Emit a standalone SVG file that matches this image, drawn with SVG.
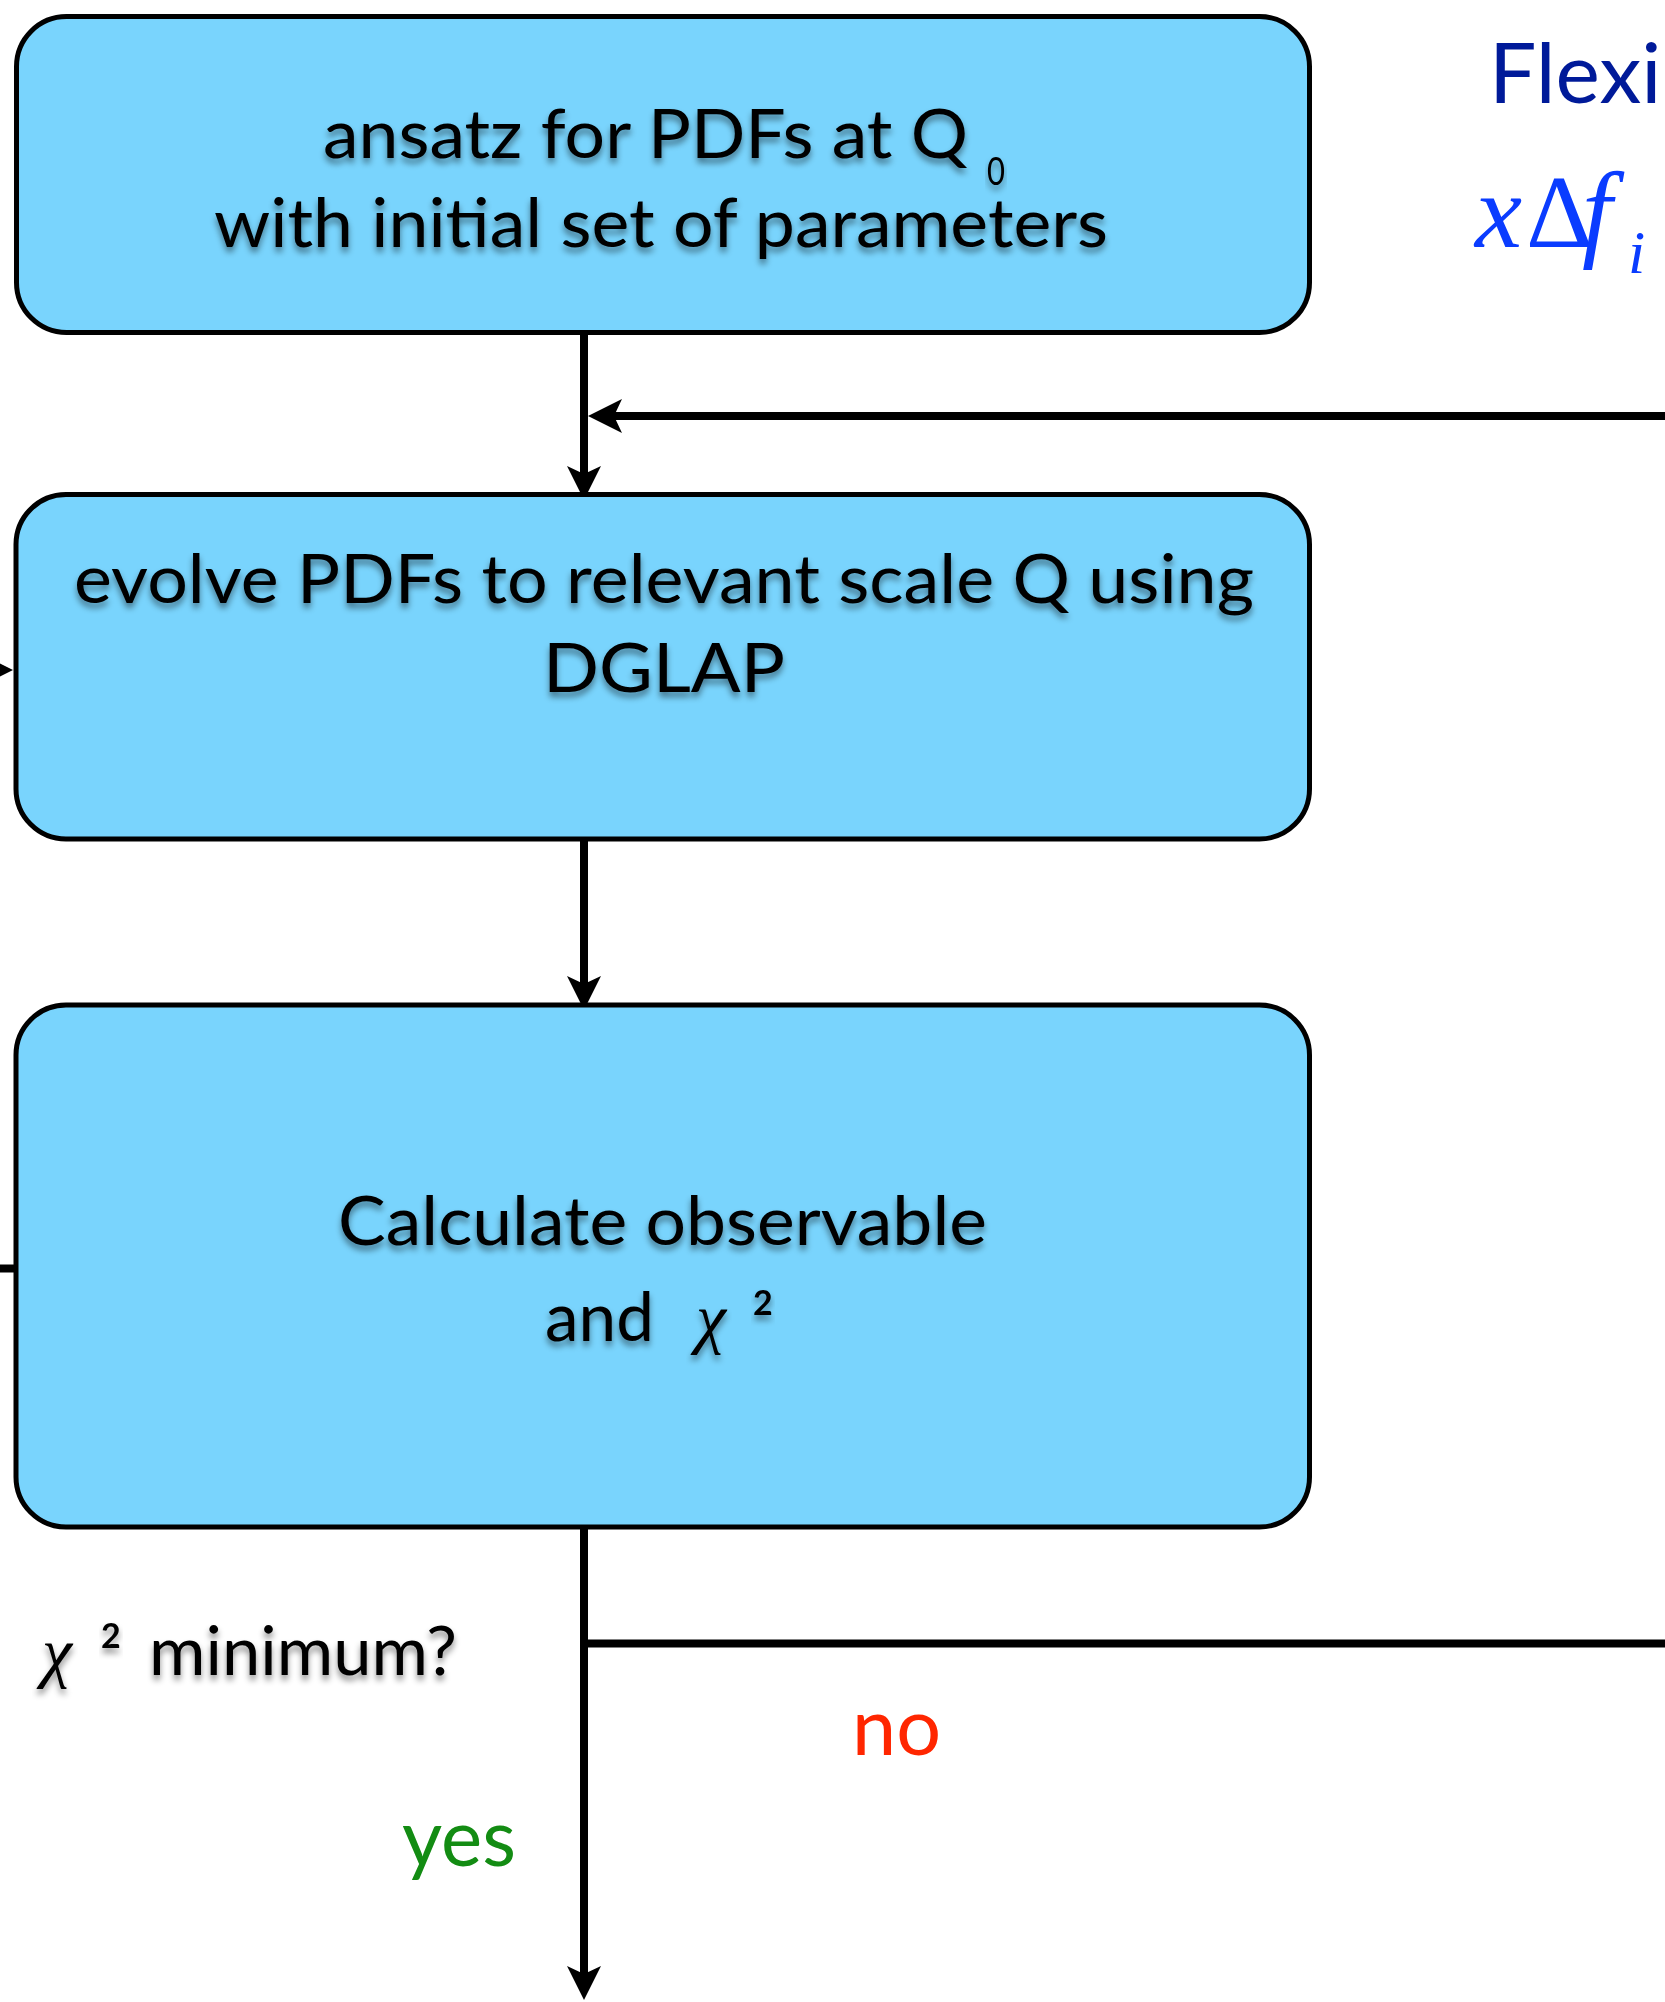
<svg xmlns="http://www.w3.org/2000/svg" width="1665" height="2002" viewBox="0 0 1665 2002">
  <defs>
    <marker id="arr" markerUnits="userSpaceOnUse" viewBox="0 -17 34 34" markerWidth="34" markerHeight="34" refX="14" refY="0" orient="auto">
      <path d="M0,-17 L34,0 L0,17 L8,0 Z" fill="#000"/>
    </marker>
    <filter id="sh" x="-10%" y="-30%" width="120%" height="170%">
      <feDropShadow dx="0" dy="5" stdDeviation="3" flood-color="#000" flood-opacity="0.45"/>
    </filter>
  </defs>
  <style>
    .box { fill: #79D4FD; stroke: #000; stroke-width: 5; }
    .t { font-family: Lato, "Liberation Sans", sans-serif; font-size: 68px; fill: #000; filter: url(#sh); }
    .sub { font-family: Lato, "Liberation Sans", sans-serif; font-size: 38px; fill: #000; filter: url(#sh); }
    .chi { font-family: "Liberation Serif", serif; font-style: italic; font-size: 68px; fill: #000; filter: url(#sh); }
    .sup { font-family: Lato, "Liberation Sans", sans-serif; font-weight: bold; font-size: 34px; fill: #000; filter: url(#sh); }
    .lbl { font-family: Lato, "Liberation Sans", sans-serif; font-size: 80px; }
    .math { font-family: "Liberation Serif", serif; fill: #0A3CFF; }
    .conn { stroke: #000; stroke-width: 8; fill: none; }
  </style>
  <rect width="1665" height="2002" fill="#fff"/>

  <g id="title">
    <text x="1489" y="103" font-family="Lato, 'Liberation Sans', sans-serif" font-size="84" fill="#001A99">Flexib</text>
  </g>
  <g id="formula">
    <text class="math" x="1475" y="247" font-size="106" font-style="italic">x</text>
    <text class="math" x="1526" y="247" font-size="104">Δ</text>
    <text class="math" x="1582" y="247" font-size="108" font-style="italic">f</text>
    <text class="math" x="1628" y="273" font-size="62" font-style="italic">i</text>
  </g>

  <g id="connectors">
    <path class="conn" d="M584,335 V480" marker-end="url(#arr)"/>
    <path class="conn" d="M1670,416 H608" marker-end="url(#arr)"/>
    <path class="conn" d="M584,839 V990" marker-end="url(#arr)"/>
    <path class="conn" d="M584,1527 V1980" marker-end="url(#arr)"/>
    <path class="conn" d="M584,1643.5 H1670"/>
    <path class="conn" d="M-40,670 H-7" marker-end="url(#arr)"/>
    <path class="conn" d="M-10,1268.5 H14"/>
  </g>

  <g id="node-ansatz">
    <rect class="box" x="16.5" y="16.5" width="1293" height="316" rx="50" ry="50"/>
    <text class="t" x="323" y="158" textLength="645" lengthAdjust="spacingAndGlyphs">ansatz for PDFs at Q</text>
    <text class="sub" x="987" y="185" textLength="18" lengthAdjust="spacingAndGlyphs">0</text>
    <text class="t" x="214" y="247" textLength="894" lengthAdjust="spacingAndGlyphs">with initial set of parameters</text>
  </g>

  <g id="node-evolve">
    <rect class="box" x="16" y="494.5" width="1293.5" height="344.5" rx="50" ry="50"/>
    <text class="t" x="74" y="603" textLength="1180" lengthAdjust="spacingAndGlyphs">evolve PDFs to relevant scale Q using</text>
    <text class="t" x="543" y="692" textLength="242" lengthAdjust="spacingAndGlyphs">DGLAP</text>
  </g>

  <g id="node-calculate">
    <rect class="box" x="16" y="1005" width="1293.5" height="522" rx="50" ry="50"/>
    <text class="t" x="338" y="1245" textLength="649" lengthAdjust="spacingAndGlyphs">Calculate observable</text>
    <text class="t" x="545" y="1341" textLength="109" lengthAdjust="spacingAndGlyphs">and</text>
    <text class="chi" x="696" y="1341">χ</text>
    <text class="sup" x="753" y="1315">2</text>
  </g>

  <g id="decision">
    <text class="chi" x="42" y="1675">χ</text>
    <text class="sup" x="101" y="1648">2</text>
    <text class="t" x="149" y="1675" textLength="308" lengthAdjust="spacingAndGlyphs">minimum?</text>
  </g>

  <g id="label-no">
    <text class="lbl" x="852" y="1755" fill="#FF2600" textLength="89" lengthAdjust="spacingAndGlyphs">no</text>
  </g>
  <g id="label-yes">
    <text class="lbl" x="402" y="1866" fill="#138C13" textLength="114" lengthAdjust="spacingAndGlyphs">yes</text>
  </g>
</svg>
